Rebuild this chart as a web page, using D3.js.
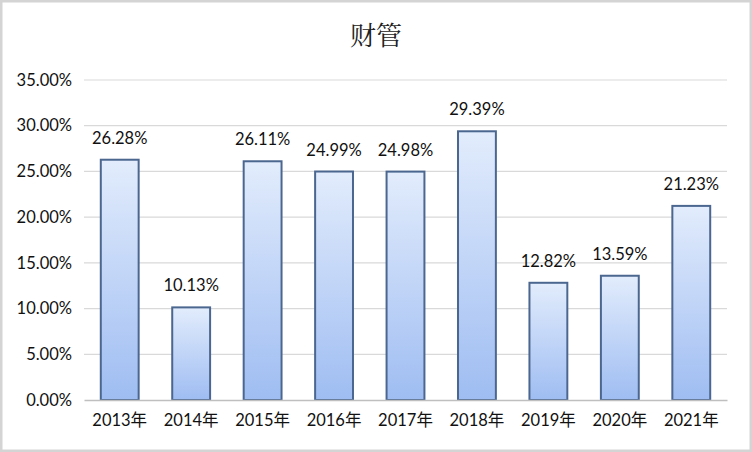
<!DOCTYPE html>
<html><head><meta charset="utf-8">
<script src="https://cdn.jsdelivr.net/npm/d3@7"></script>
<style>html,body{margin:0;padding:0;background:#fff;}svg{display:block;}</style>
</head><body>
<script>
const title = "财管";
const categories = ["2013年","2014年","2015年","2016年","2017年","2018年","2019年","2020年","2021年"];
const values = [26.28, 10.13, 26.11, 24.99, 24.98, 29.39, 12.82, 13.59, 21.23];
const yTicks = [0, 5, 10, 15, 20, 25, 30, 35];

const W = 752, H = 452;
const svg = d3.select("body").append("svg").attr("width", W).attr("height", H);
const defs = svg.append("defs");
const grad = defs.append("linearGradient").attr("id","g").attr("x1",0).attr("y1",0).attr("x2",0).attr("y2",1);
grad.append("stop").attr("offset","0%").attr("stop-color","#e2ecfc");
grad.append("stop").attr("offset","100%").attr("stop-color","#9fbdf2");

svg.append("rect").attr("x",1).attr("y",1).attr("width",W-2).attr("height",H-2)
  .attr("fill","#fff").attr("stroke","#d4d4d4").attr("stroke-width",3);

const x = d3.scaleBand().domain(categories).range([84, 727]).paddingInner(0.47).paddingOuter(0.235);
const y = d3.scaleLinear().domain([0, 35]).range([400, 80]);

const grid = svg.append("g");
grid.selectAll("line").data(yTicks.filter(t => t > 0)).join("line")
  .attr("x1", 84).attr("x2", 727)
  .attr("y1", d => y(d)).attr("y2", d => y(d))
  .attr("stroke", "#d9d9d9").attr("stroke-width", 1.2);

const yAxis = svg.append("g").attr("transform","translate(84,0)")
  .call(d3.axisLeft(y).tickValues(yTicks).tickSize(0).tickPadding(12).tickFormat(d => d.toFixed(2) + "%"));
yAxis.select(".domain").remove();
yAxis.selectAll("text").attr("font-family","Lato, 'Open Sans', sans-serif").attr("font-size",16.5).attr("fill","#111");

svg.append("g").selectAll("rect").data(values).join("rect")
  .attr("x", (d,i) => x(categories[i]))
  .attr("width", x.bandwidth())
  .attr("y", d => y(d))
  .attr("height", d => y(0) - y(d))
  .attr("fill", "url(#g)")
  .attr("stroke", "#4b6790").attr("stroke-width", 2);

const xAxis = svg.append("g").attr("transform","translate(0,400)")
  .call(d3.axisBottom(x).tickSize(0).tickPadding(14));
xAxis.select(".domain").attr("stroke","#bfbfbf").attr("stroke-width",1.5);
xAxis.selectAll("text").attr("font-family","Lato, 'Noto Sans CJK SC', sans-serif").attr("font-size",16.5).attr("fill","#111");

svg.append("g").selectAll("text").data(values).join("text")
  .attr("x", (d,i) => x(categories[i]) + x.bandwidth()/2)
  .attr("y", d => y(d) - 16)
  .attr("text-anchor","middle")
  .attr("font-family","Lato, 'Open Sans', sans-serif").attr("font-size",16.5).attr("fill","#111")
  .text(d => d.toFixed(2) + "%");

svg.append("text").attr("x", 376).attr("y", 45).attr("text-anchor","middle")
  .attr("font-family","'Noto Serif CJK SC', 'Noto Sans CJK SC', sans-serif").attr("font-size",26).attr("fill","#222")
  .text(title);
</script>
</body></html>
